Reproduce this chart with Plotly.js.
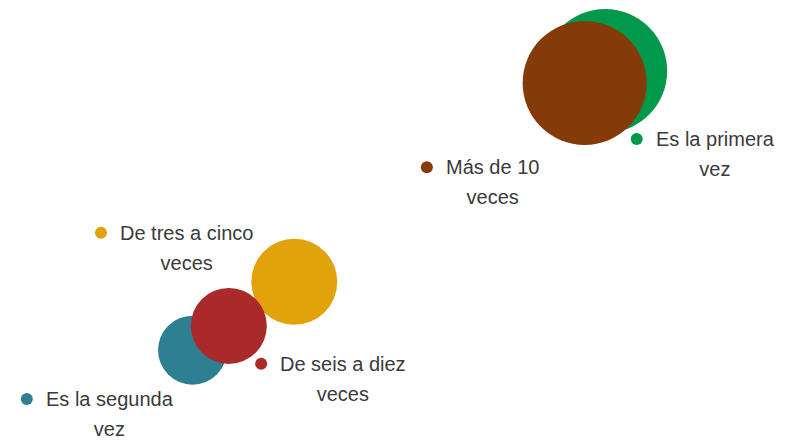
<!DOCTYPE html>
<html>
<head>
<meta charset="utf-8">
<script src="https://cdn.plot.ly/plotly-3.0.1.min.js"></script>
<style>
  html, body { margin: 0; padding: 0; background: #fff; }
  #chart { width: 789px; height: 441px; }
</style>
</head>
<body>
<div id="chart"></div>
<script>
// categories and values (x, y on a 0-100 scale, bubble diameter)
var categories = ['Es la primera vez', 'Más de 10 veces', 'De tres a cinco veces', 'Es la segunda vez', 'De seis a diez veces'];
var labelLines = [['Es la primera', 'vez'], ['Más de 10', 'veces'], ['De tres a cinco', 'veces'], ['Es la segunda', 'vez'], ['De seis a diez', 'veces']];
var xVals = [76.7, 74.1, 37.3, 24.4, 29.0];
var yVals = [83.9, 81.2, 36.1, 20.6, 26.1];
var bubbleSize = [124, 124, 86, 69, 76];

var colors = ['#00994B', '#843B09', '#E1A309', '#2F7F92', '#AA2A2B'];

// where each label marker sits (same 0-100 scale)
var labelX = [80.7, 54.1, 12.8, 3.4, 33.1];
var labelY = [68.5, 62.1, 47.2, 9.5, 17.5];

var font = {family: 'Liberation Sans Narrow, Liberation Sans, sans-serif', size: 23, color: '#3a3a3a'};

var data = [{
    x: xVals,
    y: yVals,
    mode: 'markers',
    hoverinfo: 'text',
    text: categories,
    marker: {
      size: bubbleSize,
      sizemode: 'diameter',
      color: colors,
      opacity: 1,
      line: {width: 0}
    }
  }, {
    x: labelX,
    y: labelY,
    mode: 'markers',
    hoverinfo: 'skip',
    marker: {size: 12, color: colors, line: {width: 0}}
  }
];

// bigger base font gives the wider line spacing, the span keeps the glyphs smaller
var annotations = labelLines.map(function(l, i) {
  return {
    x: labelX[i],
    y: labelY[i],
    xref: 'x',
    yref: 'y',
    text: l.map(function(s) { return '<span style="font-size:20px">' + s + '</span>'; }).join('<br>'),
    showarrow: false,
    xanchor: 'left',
    yanchor: 'top',
    xshift: 17,
    yshift: 13,
    align: 'center',
    font: font
  };
});

var layout = {
  width: 789,
  height: 441,
  margin: {l: 0, r: 0, t: 0, b: 0},
  paper_bgcolor: '#fff',
  plot_bgcolor: '#fff',
  showlegend: false,
  xaxis: {range: [0, 100], visible: false, fixedrange: true},
  yaxis: {range: [0, 100], visible: false, fixedrange: true},
  annotations: annotations
};

Plotly.newPlot('chart', data, layout, {displayModeBar: false, staticPlot: true});
</script>
</body>
</html>
